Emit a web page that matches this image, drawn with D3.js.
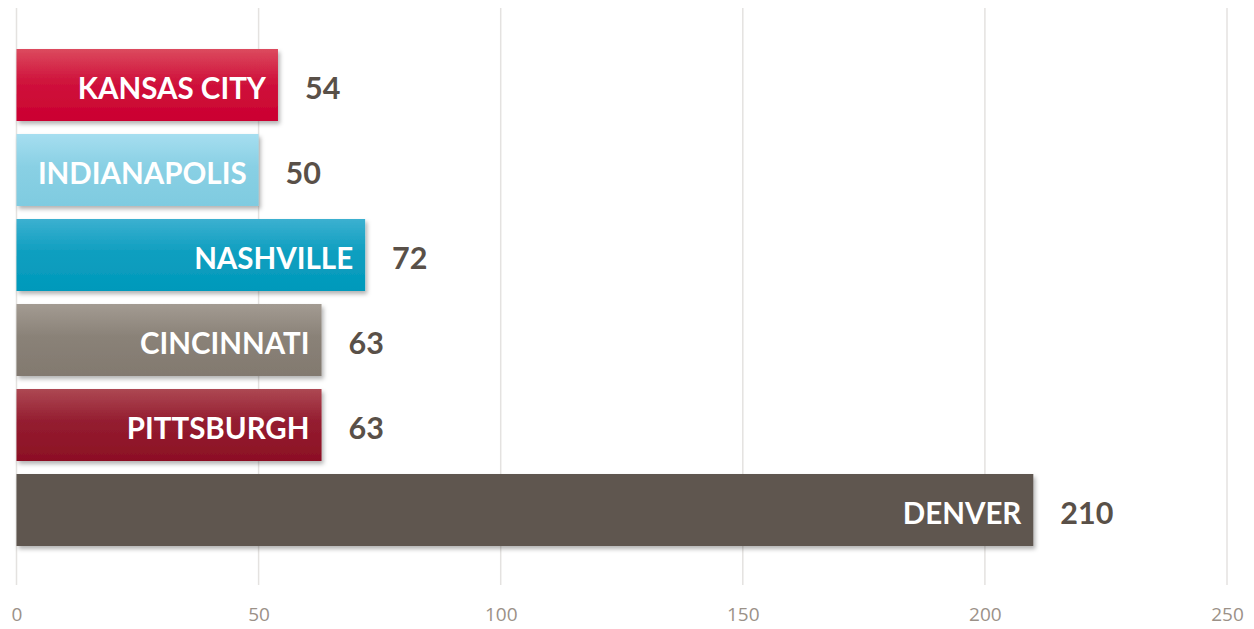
<!DOCTYPE html>
<html>
<head>
<meta charset="utf-8">
<script src="https://cdn.jsdelivr.net/npm/d3@7/dist/d3.min.js"></script>
<style>
  html, body { margin: 0; padding: 0; background: #ffffff; }
  svg { display: block; }
</style>
</head>
<body>
<svg id="chart" width="1254" height="629"></svg>
<script>
// City values
const cities = ["KANSAS CITY", "INDIANAPOLIS", "NASHVILLE", "CINCINNATI", "PITTSBURGH", "DENVER"];
const values = [54, 50, 72, 63, 63, 210];
const tickValues = [0, 50, 100, 150, 200, 250];

// Top / bottom gradient colours per bar
const topColors = ["#dc4a5e", "#a6def0", "#3cb0d0", "#a39b92", "#ad4853", "#5f5650"];
const bottomColors = ["#cb0030", "#7fcbe0", "#0099bb", "#82796f", "#8c0f24", "#5f5650"];

const svg = d3.select("#chart");
const font = "Lato, 'Open Sans', sans-serif";

const x = d3.scaleLinear().domain([0, 250]).range([16.5, 1227]);
const y = d3.scaleBand().domain(cities).range([49, 546]).paddingInner(13 / 85).paddingOuter(0);

const defs = svg.append("defs");
const shadow = defs.append("filter").attr("id", "shadow")
  .attr("x", "-5%").attr("y", "-20%").attr("width", "115%").attr("height", "150%");
shadow.append("feDropShadow").attr("dx", 2).attr("dy", 3).attr("stdDeviation", 2.2)
  .attr("flood-color", "#000").attr("flood-opacity", 0.3);

cities.forEach((c, i) => {
  const g = defs.append("linearGradient").attr("id", "grad" + i)
    .attr("x1", 0).attr("y1", 0).attr("x2", 0).attr("y2", 1);
  g.append("stop").attr("offset", "0%").attr("stop-color", topColors[i]);
  g.append("stop").attr("offset", "45%").attr("stop-color", d3.interpolateRgb(topColors[i], bottomColors[i])(0.75));
  g.append("stop").attr("offset", "100%").attr("stop-color", bottomColors[i]);
});

// Vertical gridlines
svg.append("g").selectAll("line").data(tickValues).join("line")
  .attr("x1", d => x(d)).attr("x2", d => x(d))
  .attr("y1", 8).attr("y2", 585)
  .attr("stroke", "#e4e2e0").attr("stroke-width", 1.5);

// Axis labels
const axis = d3.axisBottom(x).tickValues(tickValues).tickSize(0).tickPadding(0);
const ax = svg.append("g").attr("transform", "translate(0,621)").call(axis);
ax.select(".domain").remove();
ax.selectAll("text")
  .attr("font-family", "'Open Sans', sans-serif")
  .attr("font-size", 19).attr("fill", "#9b9188").attr("dy", null)
  .attr("dominant-baseline", "alphabetic").attr("y", 0);

// Bars
const bars = svg.append("g").selectAll("g").data(cities).join("g");
bars.append("rect")
  .attr("x", x(0))
  .attr("y", d => y(d))
  .attr("width", (d, i) => x(values[i]) - x(0))
  .attr("height", y.bandwidth())
  .attr("fill", (d, i) => "url(#grad" + i + ")")
  .attr("filter", "url(#shadow)");

// City names inside bars
bars.append("text")
  .attr("x", (d, i) => x(values[i]) - 12)
  .attr("y", d => y(d) + y.bandwidth() / 2 + 3)
  .attr("dy", "0.36em")
  .attr("text-anchor", "end")
  .attr("font-family", font).attr("font-weight", 700).attr("font-size", 29.5)
  .attr("fill", "#ffffff")
  .text(d => d);

// Value labels
bars.append("text")
  .attr("x", (d, i) => x(values[i]) + 27)
  .attr("y", d => y(d) + y.bandwidth() / 2 + 3)
  .attr("dy", "0.36em")
  .attr("text-anchor", "start")
  .attr("font-family", font).attr("font-weight", 700).attr("font-size", 30.5)
  .attr("fill", "#595048")
  .text((d, i) => values[i]);
</script>
</body>
</html>
